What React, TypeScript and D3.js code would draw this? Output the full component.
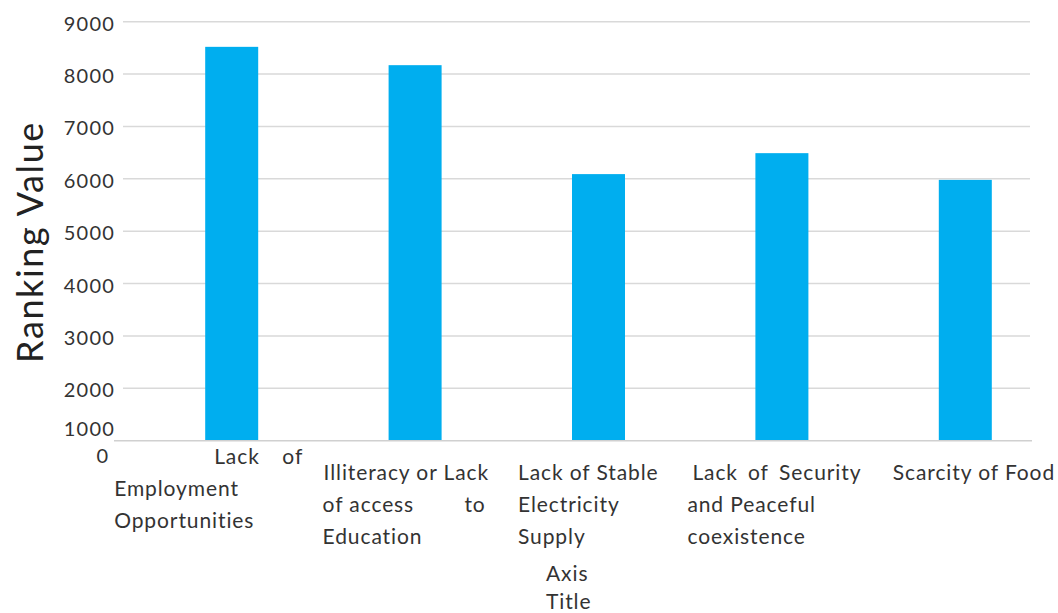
import React from "react";
import * as d3 from "d3";

// Survey categories and their ranking values
const categories = [
  "Lack of Employment Opportunities",
  "Illiteracy or Lack of access to Education",
  "Lack of Stable Electricity Supply",
  "Lack of Security and Peaceful coexistence",
  "Scarcity of Food",
];
const rankingValues = [8520, 8170, 6090, 6490, 5980];

// Wrapped category label lines, each split into word groups spread across the line
const categoryLines: string[][][] = [
  [["Lack", "of"], ["Employment"], ["Opportunities"]],
  [["Illiteracy or Lack"], ["of access", "to"], ["Education"]],
  [["Lack of Stable"], ["Electricity"], ["Supply"]],
  [["Lack", "of", "Security"], ["and Peaceful"], ["coexistence"]],
  [["Scarcity of Food"]],
];

const yTicks = [1000, 2000, 3000, 4000, 5000, 6000, 7000, 8000, 9000];
const yTitle = "Ranking Value";
const xTitleLines = ["Axis", "Title"];

const W = 1058;
const H = 613;
const FONT = "Lato, 'Open Sans', sans-serif";
const LABEL_SIZE = 21;
const LABEL_LS = 0.9;

// Block placement of each wrapped label relative to its band centre
const labelLayout = [
  { dx: -117.5, width: 189, indent: 100, top: 455 },
  { dx: -92.5, width: 163, indent: 1, top: 471 },
  { dx: -80.5, width: 142, indent: 0, top: 471 },
  { dx: -94.5, width: 174, indent: 5, top: 471 },
  { dx: -72.5, width: 163, indent: 0, top: 471 },
];

let measureCtx: CanvasRenderingContext2D | null = null;
function textWidth(s: string, size: number, ls: number) {
  if (!measureCtx) {
    const c = document.createElement("canvas");
    measureCtx = c.getContext("2d");
  }
  if (!measureCtx) return s.length * (size * 0.5 + ls);
  measureCtx.font = `${size}px Lato`;
  return measureCtx.measureText(s).width + ls * s.length;
}

function SpreadLine({ groups, x, y, width }: { groups: string[]; x: number; y: number; width: number }) {
  const common = {
    dominantBaseline: "central" as const,
    fontSize: LABEL_SIZE,
    fill: "#333",
    letterSpacing: LABEL_LS,
  };
  if (groups.length < 2) {
    return (
      <text x={x} y={y} {...common}>
        {groups[0]}
      </text>
    );
  }
  const widths = groups.map((w) => textWidth(w, LABEL_SIZE, LABEL_LS));
  const total = widths.reduce((a, b) => a + b, 0);
  const gap = (width - total) / (groups.length - 1);
  let cx = x;
  return (
    <g>
      {groups.map((w, i) => {
        const el = (
          <text key={i} x={cx} y={y} {...common}>
            {w}
          </text>
        );
        cx += widths[i] + gap;
        return el;
      })}
    </g>
  );
}

export default function App() {
  const y = d3.scaleLinear().domain([1000, 9000]).range([440.7, 21.7]);
  const x = d3
    .scaleBand<string>()
    .domain(categories)
    .range([140, 1057])
    .paddingInner(0.711)
    .paddingOuter(0.3555);

  const gridLeft = 123;
  const gridRight = 1030;
  const lineH = 32;

  return (
    <svg
      width={W}
      height={H}
      style={{ position: "absolute", left: 0, top: 0, background: "#fff" }}
      fontFamily={FONT}
    >
      {/* horizontal gridlines */}
      {yTicks
        .filter((t) => t > 1000)
        .map((t) => (
          <line key={t} x1={gridLeft} x2={gridRight} y1={y(t)} y2={y(t)} stroke="#d9d9d9" strokeWidth={1.5} />
        ))}

      {/* bars */}
      {categories.map((c, i) => (
        <rect
          key={c}
          x={x(c)}
          y={y(rankingValues[i])}
          width={x.bandwidth()}
          height={y(1000) - y(rankingValues[i])}
          fill="#00AEEF"
        />
      ))}

      {/* category axis line */}
      <line x1={114} x2={1032} y1={y(1000)} y2={y(1000)} stroke="#d0d0d0" strokeWidth={1.5} />

      {/* y tick labels */}
      {yTicks.map((t) => (
        <text
          key={t}
          x={115}
          y={t === 1000 ? y(t) - 13 : y(t) + 1}
          textAnchor="end"
          dominantBaseline="central"
          fontSize={20}
          letterSpacing={1.2}
          fill="#333"
        >
          {t}
        </text>
      ))}
      <text x={108} y={455} textAnchor="end" dominantBaseline="central" fontSize={20} fill="#333">
        0
      </text>

      {/* category labels */}
      {categories.map((c, i) => {
        const L = labelLayout[i];
        const center = (x(c) ?? 0) + x.bandwidth() / 2;
        const left = center + L.dx;
        return (
          <g key={c}>
            {categoryLines[i].map((groups, j) => {
              const indent = j === 0 ? L.indent : 0;
              return (
                <SpreadLine
                  key={j}
                  groups={groups}
                  x={left + indent}
                  y={L.top + j * lineH}
                  width={L.width - indent}
                />
              );
            })}
          </g>
        );
      })}

      {/* x axis title */}
      {xTitleLines.map((t, i) => (
        <text
          key={t}
          x={546}
          y={572 + i * 28}
          dominantBaseline="central"
          fontSize={LABEL_SIZE}
          letterSpacing={LABEL_LS}
          fill="#333"
        >
          {t}
        </text>
      ))}

      {/* y axis title */}
      <text
        transform={`translate(43, 242) rotate(-90)`}
        textAnchor="middle"
        fontSize={36}
        letterSpacing={1.6}
        fill="#222"
      >
        {yTitle}
      </text>
    </svg>
  );
}
